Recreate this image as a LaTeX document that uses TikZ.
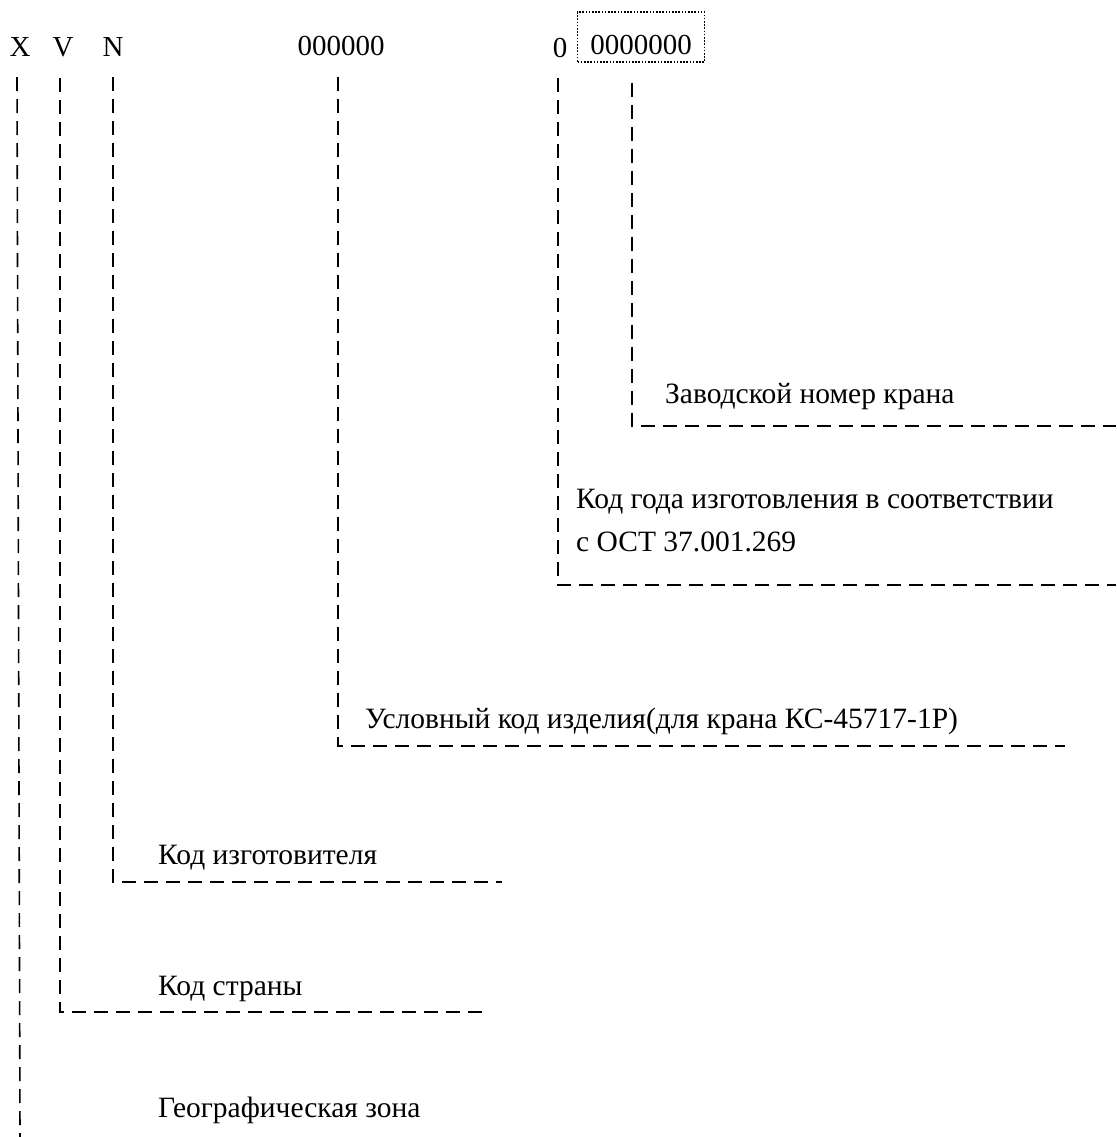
\documentclass[tikz,border=0pt]{standalone}
\usepackage{fontspec}
\setmainfont{Liberation Serif}
\usetikzlibrary{positioning}
\tikzset{
  codechar/.style={inner sep=0pt, anchor=base, font=\fontsize{29}{34}\selectfont},
  codelabel/.style={inner sep=0pt, anchor=base west, align=left,
    font=\fontsize{29.5}{43}\selectfont},
  leader/.style={draw=black, line width=1.6pt, dash pattern=on 14pt off 8pt},
  serialbox/.style={draw=black, line width=1.4pt, dash pattern=on 1.6pt off 1.6pt,
    inner sep=0pt, minimum width=127pt, text height=43pt, text depth=7pt}
}

\begin{document}
\begin{tikzpicture}[x=1pt, y=-1pt]
  \useasboundingbox (0,0) rectangle (1116,1137);
  % code line
  \node[codechar] (zone) at (20,57) {X};
  \node[codechar] (country) at (63,57) {V};
  \node[codechar] (maker) at (113,57) {N};
  \node[codechar] (product) at (341,56) {000000};
  \node[codechar] (year) at (560,58) {0};
  \node[codechar, serialbox] (serial) at (641,55) {0000000};
  % labels
  \node[codelabel] (serialtxt) at (665,403) {Заводской номер крана};
  \node[codelabel] (yeartxt) at (576,551) {Код года изготовления в соответствии\\с ОСТ 37.001.269};
  \node[codelabel] (producttxt) at (365,728) {Условный код изделия(для крана КС-45717-1Р)};
  \node[codelabel] (makertxt) at (158,864) {Код изготовителя};
  \node[codelabel] (countrytxt) at (158,995) {Код страны};
  \node[codelabel] (zonetxt) at (158,1117) {Географическая зона};
  % leader ends
  \coordinate (serialend) at (1116,426);
  \coordinate (yearend) at (1116,585);
  \coordinate (productend) at (1065,746);
  \coordinate (makerend) at (502,882);
  \coordinate (countryend) at (483,1012);
  \coordinate (zoneend) at (17,1137);
  % leaders
  \draw[leader] ([xshift=-9pt,yshift=-20pt]serial.south) |- (serialend);
  \draw[leader] ([xshift=-2pt,yshift=-20pt]year.south) |- (yearend);
  \draw[leader] ([xshift=-3pt,yshift=-21pt]product.south) |- (productend);
  \draw[leader] ([yshift=-20pt]maker.south) |- (makerend);
  \draw[leader] ([xshift=-3pt,yshift=-20pt]country.south) |- (countryend);
  \draw[leader] ([xshift=-3pt,yshift=-20pt]zone.south) -- (zone.south |- zoneend);
\end{tikzpicture}
\end{document}
